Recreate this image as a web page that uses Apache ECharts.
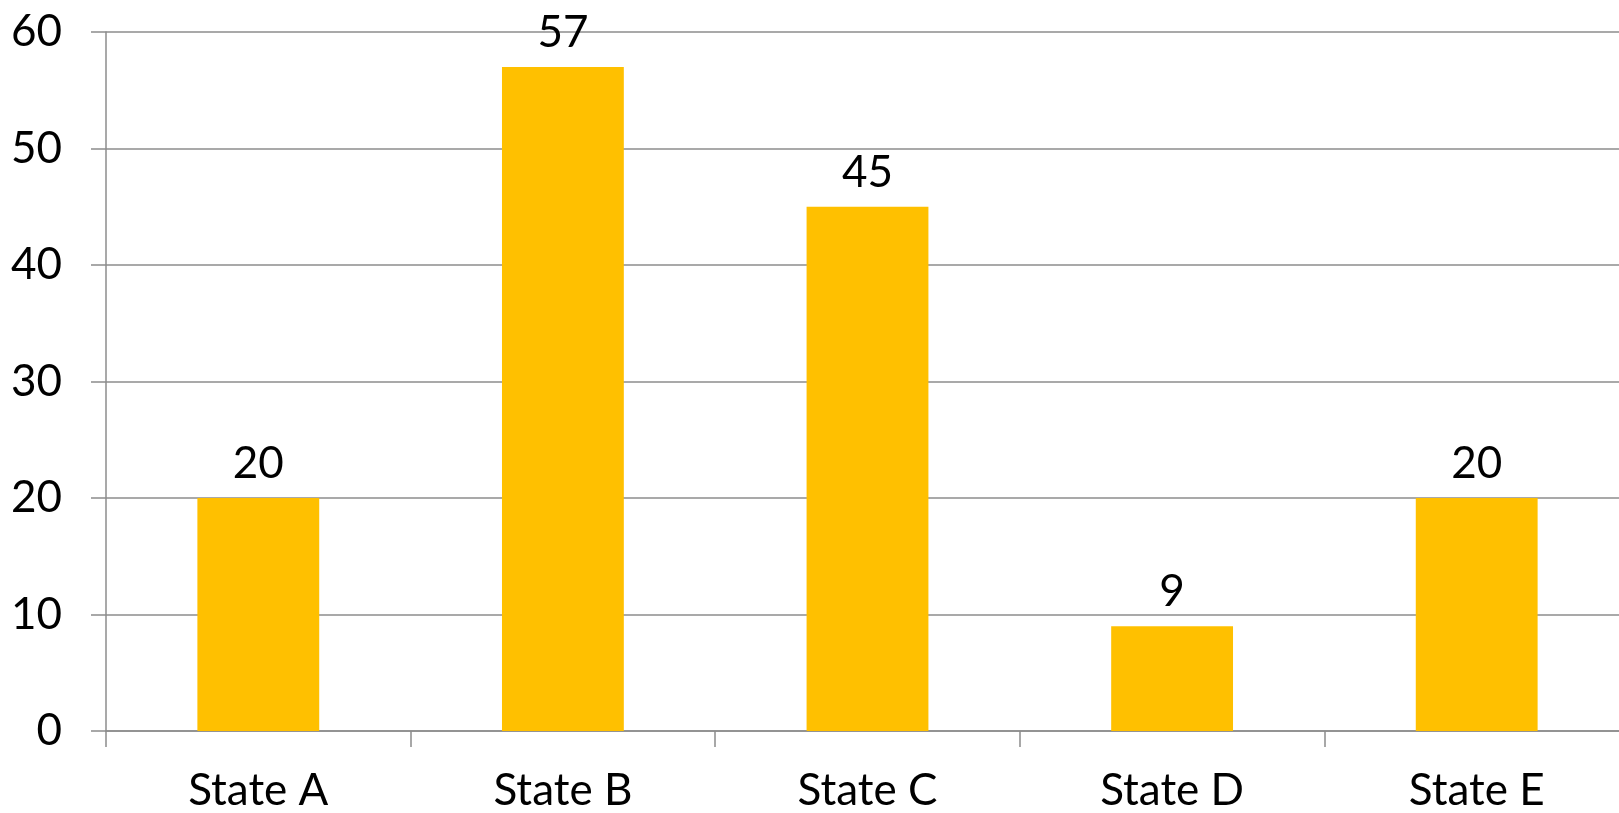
<!DOCTYPE html>
<html>
<head>
<meta charset="utf-8">
<script src="https://cdn.jsdelivr.net/npm/echarts@6/dist/echarts.min.js"></script>
<style>html,body{margin:0;padding:0;background:#fff;overflow:hidden;width:1619px;height:813px}#c{width:1629px;height:813px}</style>
</head>
<body>
<div id="c"></div>
<script>
const categories = ['State A', 'State B', 'State C', 'State D', 'State E'];
const values = [20, 57, 45, 9, 20];
const yTicks = [0, 10, 20, 30, 40, 50, 60];

const FONT = 'Lato';
const chart = echarts.init(document.getElementById('c'), null, {renderer: 'canvas'});
chart.setOption({
  animation: false,
  backgroundColor: '#ffffff',
  grid: {left: 106, right: 0, top: 32, bottom: 82, containLabel: false},
  xAxis: {
    type: 'category',
    data: categories,
    axisLine: {show: true, lineStyle: {color: '#8c8c8c', width: 1.5}},
    axisTick: {show: true, length: 16, lineStyle: {color: '#8c8c8c', width: 1.5}},
    axisLabel: {fontFamily: FONT, fontSize: 44, color: '#000', margin: 38}
  },
  yAxis: {
    type: 'value',
    min: yTicks[0],
    max: yTicks[yTicks.length - 1],
    interval: 10,
    axisLine: {show: true, lineStyle: {color: '#8c8c8c', width: 1.5}},
    axisTick: {show: true, length: 15, lineStyle: {color: '#8c8c8c', width: 1.5}},
    splitLine: {show: true, lineStyle: {color: '#8c8c8c', width: 1.5}},
    axisLabel: {fontFamily: FONT, fontSize: 44, color: '#000', margin: 44}
  },
  series: [{
    type: 'bar',
    data: values,
    barWidth: '40%',
    itemStyle: {color: '#FFC000'},
    label: {show: true, position: 'top', distance: 12, fontFamily: FONT, fontSize: 44, color: '#000'}
  }]
});
</script>
</body>
</html>
